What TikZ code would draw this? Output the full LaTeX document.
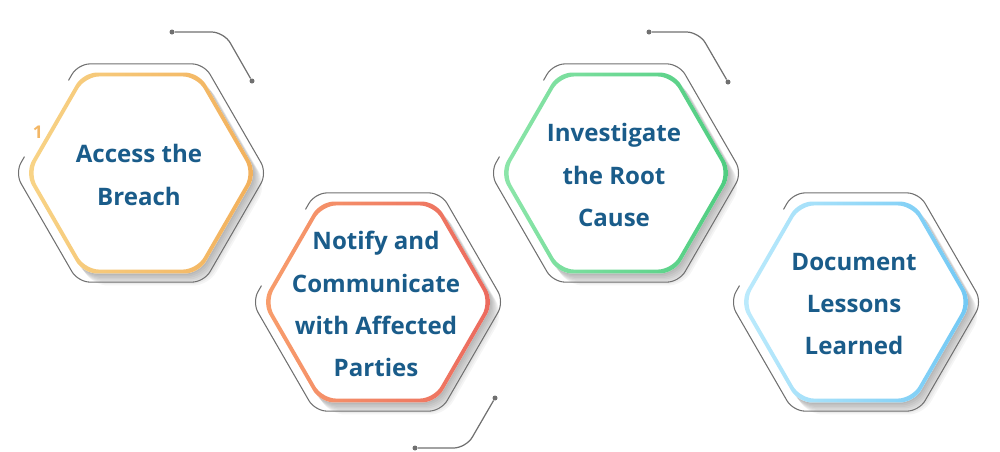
\documentclass[tikz,border=0pt]{standalone}
\usepackage{fontspec}
\setmainfont{Open Sans}
\definecolor{textblue}{HTML}{1A5C8A}
\definecolor{wiregray}{HTML}{707070}
\definecolor{yelA}{HTML}{F8D487}
\definecolor{yelB}{HTML}{F2B05C}
\definecolor{redA}{HTML}{F89E6C}
\definecolor{redB}{HTML}{EB695E}
\definecolor{grnA}{HTML}{8DE6AA}
\definecolor{grnB}{HTML}{4ECC80}
\definecolor{bluA}{HTML}{BDEBFC}
\definecolor{bluB}{HTML}{71C8F4}
\definecolor{numyel}{HTML}{F3B766}
\begin{document}
\begin{tikzpicture}
      [
      x=0.02cm, y=-0.02cm,
      outline/.style={draw=wiregray, line width=0.6pt, rounded corners=0.24cm},
      shadowfill/.style={fill=black, opacity=0.04, rounded corners=0.3cm},
      steptext/.style={text=textblue, font=\bfseries\fontsize{13.7}{24}\selectfont, align=center},
      dot/.style={circle, fill=wiregray, inner sep=0pt, minimum size=1mm},
      wire/.style={draw=wiregray, line width=0.7pt, rounded corners=0.25cm}
      ]
      \useasboundingbox (0,0) rectangle (1000,451);

      % hexagons
      \foreach \cx/\cy/\ca/\cb/\nm/\txt in {
          141/173/yelA/yelB/access/{Access the\\Breach},
          378/302/redA/redB/notify/{Notify and\\Communicate\\with Affected\\Parties},
          616/173/grnA/grnB/investigate/{Investigate\\the Root\\Cause},
          856/302/bluA/bluB/document/{Document\\Lessons\\Learned}}
      {
        \begin{scope}[shift={(\cx,\cy)}]
          \foreach \k in {1,...,8}
            \fill[shadowfill, shift={(\k*1.2,\k*1.5)}]
              (0:116) -- (60:116) -- (120:116) -- (180:116) -- (240:116) -- (300:116) -- cycle;
          \draw[outline] (-116.5,-16.4) -- (180:126) -- (120:126) -- (60:126) -- (0:126)
              -- (-60:126) -- (-120:126) -- (-72.5,-92.6);
          \fill[white, rounded corners=0.28cm]
              (0:116) -- (60:116) -- (120:116) -- (180:116) -- (240:116) -- (300:116) -- cycle;
          \shade[left color=\ca, right color=\cb, even odd rule, rounded corners=0.28cm]
              (0:116) -- (60:116) -- (120:116) -- (180:116) -- (240:116) -- (300:116) -- cycle
              (0:111.5) -- (60:111.5) -- (120:111.5) -- (180:111.5) -- (240:111.5) -- (300:111.5) -- cycle;
          \node[steptext] (\nm) at (-2,2) {\txt};
        \end{scope}
      }

      \node (num) at (38,132) [text=numyel, font=\bfseries\fontsize{10}{12}\selectfont] {1};

      % connectors
      \node (a1) at (172,32) [dot] {};
      \node (a2) at (252,81) [dot] {};
      \coordinate (a0) at (224,32);
      \draw [wire] (a1) -- (a0) -- (a2);

      \node (b1) at (415,448) [dot] {};
      \node (b2) at (495,398) [dot] {};
      \coordinate (b0) at (466,448);
      \draw [wire] (b1) -- (b0) -- (b2);

      \node (c1) at (649,32) [dot] {};
      \node (c2) at (728,82) [dot] {};
      \coordinate (c0) at (699,32);
      \draw [wire] (c1) -- (c0) -- (c2);
    \end{tikzpicture}
\end{document}
